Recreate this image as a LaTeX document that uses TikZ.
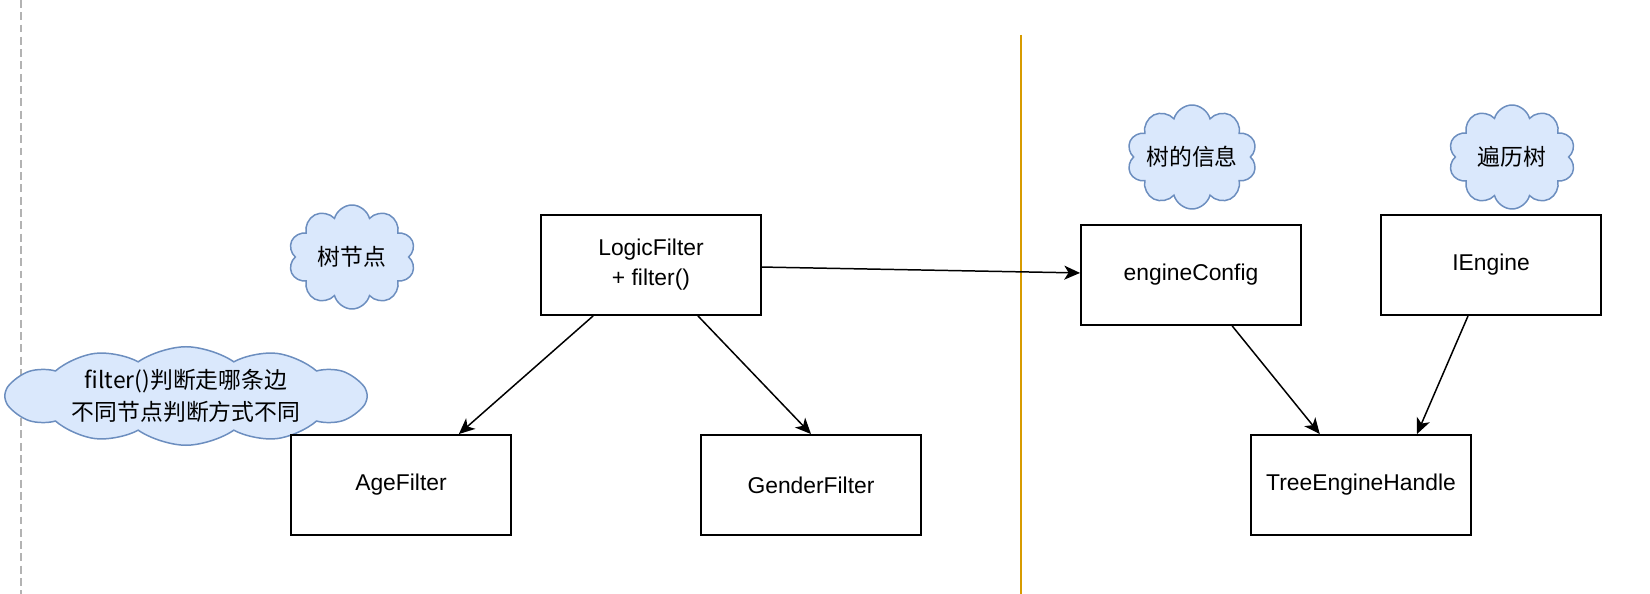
\documentclass[tikz,border=0pt]{standalone}
\usepackage{fontspec}
\setmainfont{Liberation Sans}
\newfontfamily\cjk{Noto Sans CJK SC}
\usetikzlibrary{arrows.meta,shapes.symbols}
\definecolor{cloudfill}{HTML}{DAE8FC}
\definecolor{clouddraw}{HTML}{6C8EBF}
\definecolor{divider}{HTML}{D79B00}
\definecolor{guide}{HTML}{B3B3B3}
\begin{document}
\begin{tikzpicture}[x=0.02cm,y=-0.02cm,
    box/.style={draw,line width=1.1pt,fill=white,minimum width=4.4cm,minimum height=2cm,
      align=center,font=\fontsize{13}{17}\selectfont},
    note/.style={cloud,cloud puffs=10,cloud ignores aspect,draw=clouddraw,fill=cloudfill,
      line width=0.85pt,align=center,inner sep=0pt,font=\cjk\fontsize{13}{18}\selectfont},
    link/.style={line width=0.85pt,-{Stealth[length=9pt,width=8pt,inset=2.5pt]}}]
      \useasboundingbox (0,0) rectangle (1650,594);
      \draw[guide,line width=1pt,dash pattern=on 4.5pt off 2.5pt] (21,0) -- (21,594);
      \draw[divider,line width=1pt] (1021,35) -- (1021,594);
      \draw
        (352,257) node[note,minimum width=2.54cm,minimum height=2.08cm] (tn){树节点}
        (186,396) node[note,cloud puffs=12,cloud puff arc=70,minimum width=7.25cm,minimum height=1.8cm] (tip){filter()判断走哪条边\\不同节点判断方式不同}
        (1192,157) node[note,minimum width=2.54cm,minimum height=2.08cm] (info){树的信息}
        (1512,157) node[note,minimum width=2.54cm,minimum height=2.08cm] (walk){遍历树};
      \draw
        (651,265) node[box] (logic){LogicFilter\\+ filter()}
        (401,485) node[box] (age){AgeFilter}
        (811,485) node[box] (gender){GenderFilter}
        (1191,275) node[box] (config){engineConfig}
        (1491,265) node[box] (iengine){IEngine}
        (1361,485) node[box] (handle){TreeEngineHandle};
      \begin{scope}[link]
        \draw (logic) to (age);
        \draw ([xshift=0.94cm]logic.south) to (gender.north);
        \draw (logic) to (config);
        \draw (config) to (handle);
        \draw ([xshift=-0.46cm]iengine.south) to ([xshift=1.12cm]handle.north);
      \end{scope}
    \end{tikzpicture}
\end{document}
